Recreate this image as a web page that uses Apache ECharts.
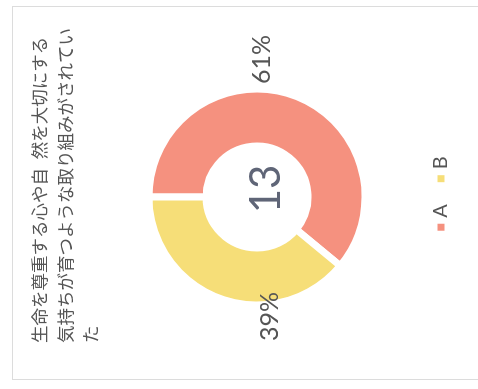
<!DOCTYPE html>
<html>
<head>
<meta charset="utf-8">
<script src="https://cdn.jsdelivr.net/npm/echarts@6/dist/echarts.min.js"></script>
<style>
    html, body { margin: 0; padding: 0; background: #fff; }
    body { width: 478px; height: 389px; overflow: hidden; position: relative; }
    /* the scanned card is turned a quarter turn to the left */
    #wrap {
        position: absolute; left: 0; top: 0;
        width: 389px; height: 478px;
        transform-origin: 0 0;
        transform: translate(0, 389px) rotate(-90deg);
    }
    #frame {
        position: absolute; left: 9px; top: 12px;
        width: 372px; height: 480px;
        border: 1px solid #dcdcdc;
    }
    #chart { position: absolute; left: 0; top: 0; width: 389px; height: 478px; }
</style>
</head>
<body>
<div id="wrap">
    <div id="frame"></div>
    <div id="chart"></div>
</div>
<script>
    var titleLines = ['生命を尊重する心や自\u2002然を大切にする', '気持ちが育つような取り組みがされてい', 'た'];
    var categories = ['A', 'B'];
    var values = [61, 39];
    var percentLabels = ['61%', '39%'];
    var total = 13;
    var colors = ['#F5917F', '#F6DE78'];

    var cx = 192, cy = 257;

    var chart = echarts.init(document.getElementById('chart'));
    var option = {
        color: colors,
        title: [
            {
                text: titleLines.join('\n'),
                left: 41,
                top: 22,
                textStyle: {
                    fontFamily: 'Noto Sans CJK JP',
                    fontSize: 17.5,
                    fontWeight: 'normal',
                    lineHeight: 25.5,
                    color: '#555'
                }
            },
            {
                // 中央の合計
                text: String(total),
                left: cx + 3,
                top: cy + 4,
                textAlign: 'center',
                textVerticalAlign: 'middle',
                textStyle: {
                    fontFamily: 'Lato',
                    fontSize: 42,
                    fontWeight: 'normal',
                    color: '#5f6577'
                }
            }
        ],
        legend: {
            data: categories,
            left: 'center',
            bottom: 22,
            icon: 'rect',
            itemWidth: 9,
            itemHeight: 9,
            itemGap: 20,
            textStyle: { fontFamily: 'Lato', fontSize: 20, color: '#555' }
        },
        series: [
            {
                type: 'pie',
                center: [cx, cy],
                radius: [51, 108],
                startAngle: 90,
                clockwise: true,
                itemStyle: { borderColor: '#fff', borderWidth: 7 },
                label: {
                    show: true,
                    position: 'outside',
                    overflow: 'none',
                    fontFamily: 'Lato',
                    fontSize: 25,
                    color: '#555',
                    formatter: function (p) { return percentLabels[p.dataIndex]; }
                },
                labelLine: { show: false },
                labelLayout: function (p) {
                    if (p.dataIndex === 0) {
                        return { x: cx + 113, y: cy + 5, align: 'left', verticalAlign: 'middle' };
                    }
                    return { x: cx - 95, y: cy + 13, align: 'right', verticalAlign: 'middle' };
                },
                emphasis: { disabled: true },
                data: categories.map(function (c, i) { return { name: c, value: values[i] }; })
            }
        ]
    };
    chart.setOption(option);
</script>
</body>
</html>
